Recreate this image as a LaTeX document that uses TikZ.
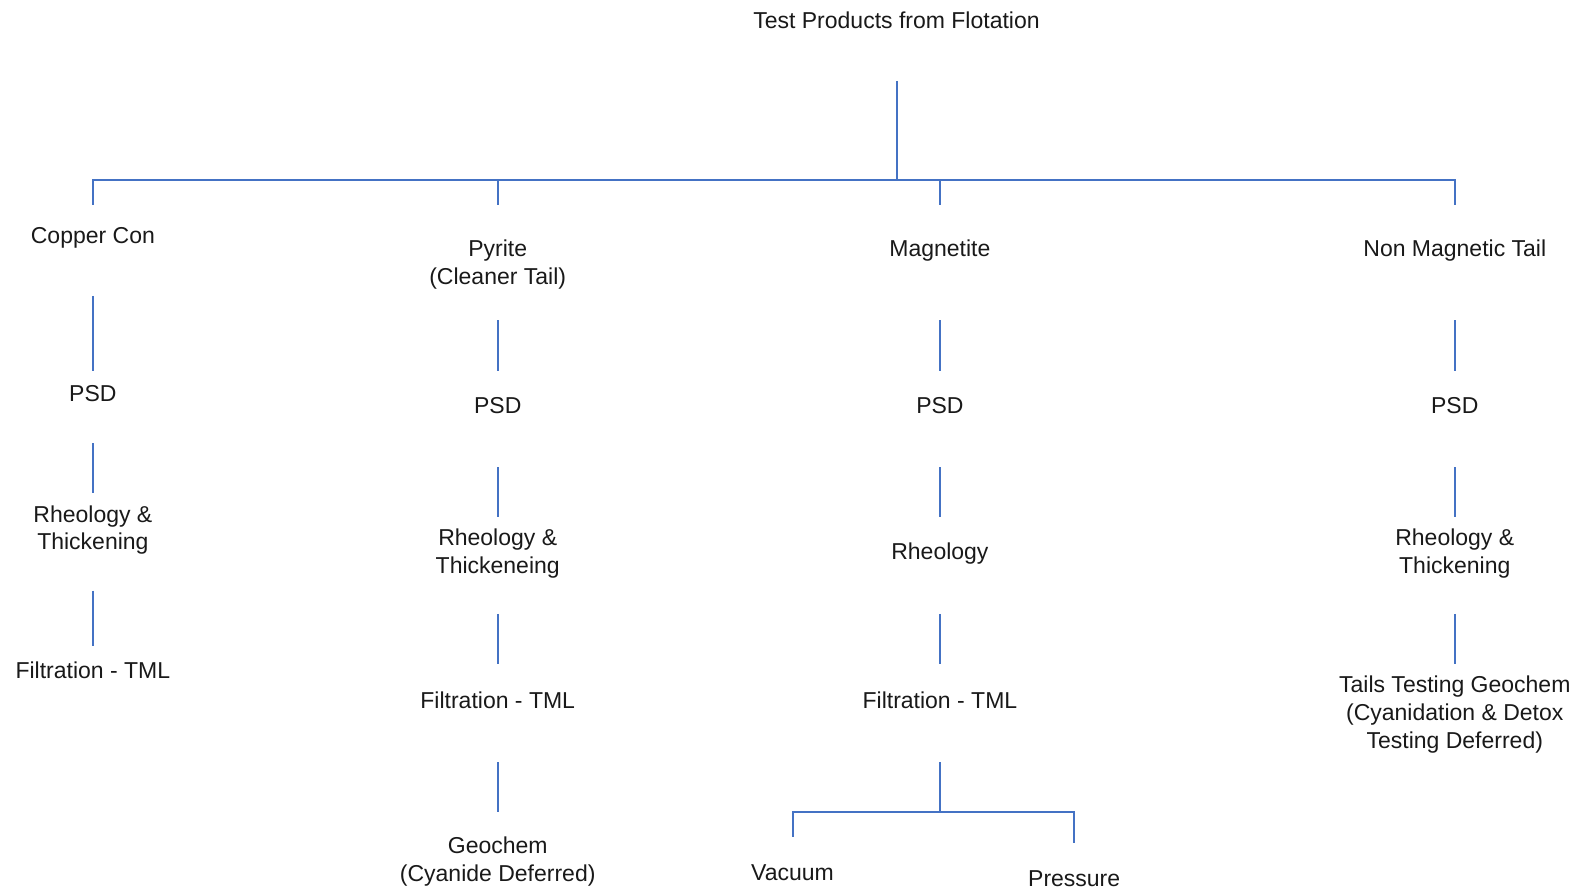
\documentclass[tikz,border=0pt]{standalone}
\usepackage{fontspec}
\setmainfont{Liberation Sans}
\begin{document}
\begin{tikzpicture}[x=1.0096pt,y=-1.0096pt,
  txt/.style={font=\fontsize{23}{27.8}\selectfont, align=center, inner sep=0pt, text=black!90, yshift=-2pt},
  frame/.style={draw=none, inner sep=0pt, outer sep=0pt, minimum width=10pt},
  link/.style={draw={rgb,255:red,68;green,114;blue,196}, line width=2pt}]
\useasboundingbox (0,0) rectangle (1568,880);

% invisible frames: (x, top, bottom) give the ends of the connectors
\newcommand{\frm}[4]{\node[frame, minimum height={(#4-#3)*1.0096pt}] (#1) at (#2,{(#3+#4)/2}) {};}

% title
\frm{tB}{888}{30}{80}
\node[txt] (tT) at (888,18) {Test Products from Flotation};
\coordinate (j0) at (888,178);

% Copper Con column
\frm{cuB}{92}{203}{293}
\frm{cpB}{92}{367}{439}
\frm{crB}{92}{488}{585}
\frm{cfB}{92}{640}{700}
\node[txt] (cuT) at (92,234) {Copper Con};
\node[txt] (cpT) at (92,388) {PSD};
\node[txt] (crT) at (92,523) {Rheology \&\\Thickening};
\node[txt] (cfT) at (92,662) {Filtration - TML};

% Pyrite column
\frm{pyB}{493}{203}{317}
\frm{ppB}{493}{367}{463}
\frm{prB}{493}{512}{608}
\frm{pfB}{493}{658}{755}
\frm{pgB}{493}{804}{870}
\node[txt] (pyT) at (493,260) {Pyrite\\(Cleaner Tail)};
\node[txt] (ppT) at (493,400) {PSD};
\node[txt] (prT) at (493,546.5) {Rheology \&\\Thickeneing};
\node[txt] (pfT) at (493,692) {Filtration - TML};
\node[txt] (pgT) at (493,851.5) {Geochem\\(Cyanide Deferred)};

% Magnetite column
\frm{mgB}{931}{203}{317}
\frm{mpB}{931}{367}{463}
\frm{mrB}{931}{512}{608}
\frm{mfB}{931}{658}{755}
\coordinate (j1) at (931,804);
\frm{vaB}{785}{829}{870}
\frm{psB}{1064}{835}{870}
\node[txt] (mgT) at (931,246) {Magnetite};
\node[txt] (mpT) at (931,400) {PSD};
\node[txt] (mrT) at (931,546) {Rheology};
\node[txt] (mfT) at (931,692) {Filtration - TML};
\node[txt] (vaT) at (785,862) {Vacuum};
\node[txt] (psT) at (1064,868) {Pressure};

% Non Magnetic Tail column
\frm{nmB}{1441}{203}{317}
\frm{npB}{1441}{367}{463}
\frm{nrB}{1441}{512}{608}
\frm{ntB}{1441}{658}{760}
\node[txt] (nmT) at (1441,246) {Non Magnetic Tail};
\node[txt] (npT) at (1441,400) {PSD};
\node[txt] (nrT) at (1441,546.5) {Rheology \&\\Thickening};
\node[txt] (ntT) at (1441,706) {Tails Testing Geochem\\(Cyanidation \& Detox\\Testing Deferred)};

% top branching
\draw[link] (tB.south) -- (j0);
\draw[link] (cuB.north) -- (cuB.north |- j0) -- (nmB.north |- j0) -- (nmB.north);
\draw[link] (pyB.north) -- (pyB.north |- j0);
\draw[link] (mgB.north) -- (mgB.north |- j0);

% column chains
\draw[link] (cuB) -- (cpB);
\draw[link] (cpB) -- (crB);
\draw[link] (crB) -- (cfB);
\draw[link] (pyB) -- (ppB);
\draw[link] (ppB) -- (prB);
\draw[link] (prB) -- (pfB);
\draw[link] (pfB) -- (pgB);
\draw[link] (mgB) -- (mpB);
\draw[link] (mpB) -- (mrB);
\draw[link] (mrB) -- (mfB);
\draw[link] (nmB) -- (npB);
\draw[link] (npB) -- (nrB);
\draw[link] (nrB) -- (ntB);

% filtration split
\draw[link] (mfB.south) -- (j1);
\draw[link] (vaB.north) -- (vaB.north |- j1) -- (psB.north |- j1) -- (psB.north);
\end{tikzpicture}
\end{document}
